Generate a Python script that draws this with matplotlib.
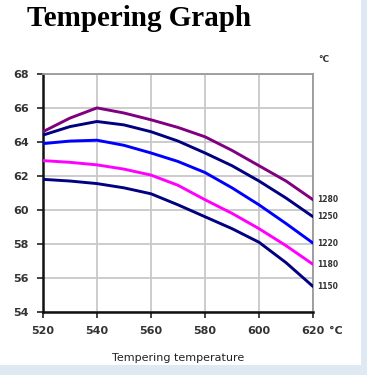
import matplotlib.pyplot as plt
from matplotlib.patches import Rectangle

# tempering temperature (deg C)
temps = [520, 530, 540, 550, 560, 570, 580, 590, 600, 610, 620]

# hardness curves, keyed by hardening temperature
h1280 = [64.6, 65.4, 66.0, 65.7, 65.3, 64.85, 64.3, 63.5, 62.6, 61.7, 60.6]
h1250 = [64.4, 64.9, 65.2, 65.0, 64.6, 64.05, 63.35, 62.6, 61.7, 60.7, 59.6]
h1220 = [63.9, 64.05, 64.1, 63.8, 63.35, 62.85, 62.2, 61.3, 60.3, 59.2, 58.05]
h1180 = [62.9, 62.8, 62.65, 62.4, 62.05, 61.45, 60.6, 59.8, 58.9, 57.9, 56.8]
h1150 = [61.8, 61.7, 61.55, 61.3, 60.95, 60.3, 59.6, 58.9, 58.1, 56.9, 55.5]

series = [("1280", h1280, "#800080"),
          ("1250", h1250, "#000080"),
          ("1220", h1220, "#0000ff"),
          ("1180", h1180, "#ff00ff"),
          ("1150", h1150, "#000080")]

xticks = [520, 540, 560, 580, 600, 620]
yticks = [54, 56, 58, 60, 62, 64, 66, 68]

fig = plt.figure(figsize=(3.67, 3.75), dpi=100, facecolor="#dfe9f4")
fig.patches.append(Rectangle((0, 0.027), 0.985, 0.973, transform=fig.transFigure,
                             facecolor="white", edgecolor="none", zorder=-5))
ax = fig.add_axes([0.117, 0.168, 0.736, 0.635])
ax.set_facecolor("white")

for name, vals, col in series:
    ax.plot(temps, vals, color=col, lw=2.1, solid_joinstyle="round",
            solid_capstyle="round", zorder=3)
    ax.text(621.5, vals[-1], name, fontsize=5.5, fontweight="bold",
            color="#333333", va="center", ha="left", clip_on=False)

ax.set_xlim(520, 620)
ax.set_ylim(54, 68)
ax.set_xticks(xticks)
ax.set_yticks(yticks)
ax.grid(True, color="#c8c8c8", lw=1.3)
ax.set_axisbelow(True)

for s in ["top", "right"]:
    ax.spines[s].set_color("#9a9a9a")
    ax.spines[s].set_linewidth(1.3)
for s in ["left", "bottom"]:
    ax.spines[s].set_color("#111111")
    ax.spines[s].set_linewidth(1.8)

ax.tick_params(axis="both", length=4, width=1.2, color="#222222",
               labelsize=8, labelcolor="#333333", pad=6)
for lab in ax.get_xticklabels() + ax.get_yticklabels():
    lab.set_fontweight("bold")

ax.text(626, 52.9, "°C", fontsize=8, fontweight="bold", color="#333333",
        ha="left", va="center", clip_on=False)
ax.text(622, 68.85, "°C", fontsize=6.5, fontweight="bold", color="#333333",
        ha="left", va="center", clip_on=False)

ax.set_xlabel("Tempering temperature", fontsize=8, color="#222222", labelpad=12)

fig.text(0.074, 0.950, "Tempering Graph", family="Liberation Serif",
         fontsize=21, fontweight="bold", color="black", ha="left", va="center")

fig.savefig("out.png", dpi=100, facecolor=fig.get_facecolor())
